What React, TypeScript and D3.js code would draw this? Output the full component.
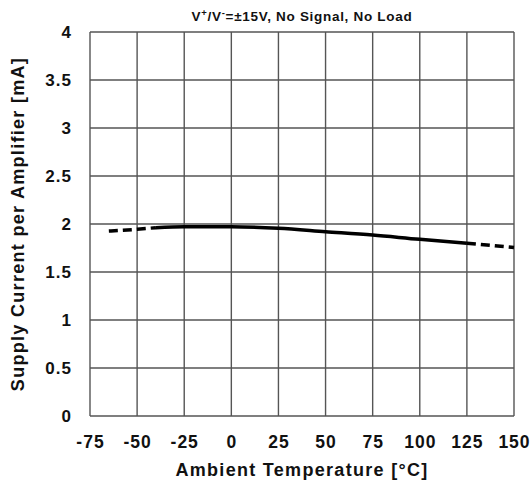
import React from "react";
import * as d3 from "d3";

// Supply current vs. ambient temperature
const temps = [-65, -50, -40, -25, 0, 25, 50, 75, 100, 125, 150];
const current = [1.927, 1.945, 1.962, 1.972, 1.972, 1.955, 1.92, 1.885, 1.84, 1.80, 1.755];
// Guaranteed (solid) range; outside of it the curve is dashed
const solidRange = [-40, 125];

const xTicks = [-75, -50, -25, 0, 25, 50, 75, 100, 125, 150];
const yTicks = [0, 0.5, 1, 1.5, 2, 2.5, 3, 3.5, 4];

const W = 531;
const H = 484;
const margin = { left: 90, right: 17, top: 32, bottom: 68 };

export default function App() {
  const x = d3.scaleLinear().domain([-75, 150]).range([margin.left, W - margin.right]);
  const y = d3.scaleLinear().domain([0, 4]).range([H - margin.bottom, margin.top]);
  const pts = temps.map((t, i) => ({ t, v: current[i] }));
  const line = d3
    .line<{ t: number; v: number }>()
    .x((d) => x(d.t))
    .y((d) => y(d.v))
    .curve(d3.curveMonotoneX);

  const left = pts.filter((d) => d.t <= solidRange[0]);
  const mid = pts.filter((d) => d.t >= solidRange[0] && d.t <= solidRange[1]);
  const right = pts.filter((d) => d.t >= solidRange[1]);

  const font = "'Liberation Sans', Arial, sans-serif";
  const gridColor = "#555";
  const cx = (x(-75) + x(150)) / 2;

  return (
    <svg
      width={W}
      height={H}
      style={{ position: "absolute", left: 0, top: 0, background: "#fff" }}
      fontFamily={font}
    >
      <text x={cx} y={21} textAnchor="middle" fontSize={13.5} fontWeight="bold" fill="#111" letterSpacing={0.7}>
        V<tspan dy={-5} fontSize={9.5}>+</tspan>
        <tspan dy={5}>/V</tspan>
        <tspan dy={-5} fontSize={9.5}>-</tspan>
        <tspan dy={5}>=±15V, No Signal, No Load</tspan>
      </text>

      {/* grid */}
      {xTicks.map((t) => (
        <line key={"gx" + t} x1={x(t)} x2={x(t)} y1={y(0)} y2={y(4)} stroke={gridColor} strokeWidth={1.4} />
      ))}
      {yTicks.map((v) => (
        <line key={"gy" + v} x1={x(-75)} x2={x(150)} y1={y(v)} y2={y(v)} stroke={gridColor} strokeWidth={1.4} />
      ))}

      {/* tick labels */}
      {yTicks.map((v) => (
        <text key={"ty" + v} x={x(-75) - 18} y={y(v) + 6} textAnchor="end" fontSize={17} fontWeight="bold" fill="#111" letterSpacing={1}>
          {v}
        </text>
      ))}
      {xTicks.map((t) => (
        <text key={"tx" + t} x={x(t) + 0.5} y={y(0) + 32} textAnchor="middle" fontSize={17.5} fontWeight="bold" fill="#111" letterSpacing={1}>
          {t}
        </text>
      ))}

      {/* axis titles */}
      <text x={cx} y={476} textAnchor="middle" fontSize={18} fontWeight="bold" fill="#111" letterSpacing={1.3}>
        Ambient Temperature [°C]
      </text>
      <text
        transform={`translate(24, ${(y(0) + y(4)) / 2}) rotate(-90)`}
        textAnchor="middle"
        fontSize={18}
        fontWeight="bold"
        fill="#111"
        letterSpacing={1.3}
      >
        Supply Current per Amplifier [mA]
      </text>

      {/* curve */}
      <path d={line(left) ?? ""} fill="none" stroke="#000" strokeWidth={3.5} strokeDasharray="9,5" />
      <path d={line(mid) ?? ""} fill="none" stroke="#000" strokeWidth={3.5} />
      <path d={line(right) ?? ""} fill="none" stroke="#000" strokeWidth={3.5} strokeDasharray="9,5" />
    </svg>
  );
}
